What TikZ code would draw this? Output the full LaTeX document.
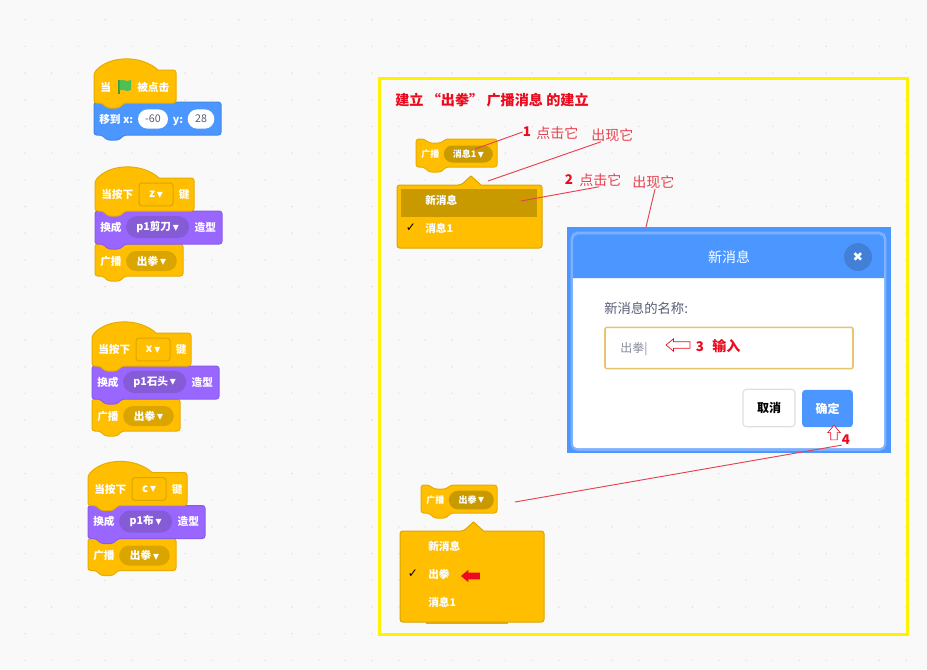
\documentclass[tikz,border=0pt]{standalone}
\usepackage{fontspec}
\setmainfont{Noto Sans CJK SC}
\newfontfamily\symfont{DejaVu Sans}
\usetikzlibrary{positioning,shapes.misc,shapes.arrows}
\definecolor{canvas}{HTML}{F9F9F9}
\definecolor{griddot}{HTML}{E4E4E4}
\definecolor{blockyellow}{HTML}{FFBF00}
\definecolor{yellowedge}{HTML}{E6AC00}
\definecolor{yellowpill}{HTML}{DBA500}
\definecolor{menudark}{HTML}{C99900}
\definecolor{blockpurple}{HTML}{9966FF}
\definecolor{purpleedge}{HTML}{8A5CE6}
\definecolor{purplepill}{HTML}{855CD6}
\definecolor{blockblue}{HTML}{4C97FF}
\definecolor{blueedge}{HTML}{4287E8}
\definecolor{ringblue}{HTML}{7DB1FF}
\definecolor{closeblue}{HTML}{4280D7}
\definecolor{inkgray}{HTML}{575E75}
\definecolor{inputedge}{HTML}{E9C46F}
\definecolor{notered}{HTML}{E8404F}
\definecolor{titlered}{HTML}{EE0A1E}
\definecolor{flaggreen}{HTML}{4CBF56}
\definecolor{poleGreen}{HTML}{45993D}
\tikzset{
  yellowblk/.style={fill=blockyellow,draw=yellowedge,line width=0.75pt,rounded corners=2pt},
  purpleblk/.style={fill=blockpurple,draw=purpleedge,line width=0.75pt,rounded corners=2pt},
  blueblk/.style={fill=blockblue,draw=blueedge,line width=0.75pt,rounded corners=2pt},
  menuedge/.style={fill=blockyellow,draw=yellowpill,line width=0.75pt,rounded corners=2pt},
  blktxt/.style={text=white,inner sep=0pt,font=\bfseries\fontsize{8}{10}\selectfont},
  smalltxt/.style={text=white,inner sep=0pt,font=\bfseries\fontsize{6.75}{8}\selectfont},
  menutxt/.style={text=white,inner sep=0pt,font=\bfseries\fontsize{8}{10}\selectfont},
  pillnode/.style={rounded rectangle,inner sep=0pt,minimum height=16.5pt,text=white,font=\bfseries\fontsize{8}{10}\selectfont},
  keybox/.style={rectangle,rounded corners=2pt,draw=yellowpill,fill=blockyellow,line width=0.75pt,inner sep=0pt,
    minimum width=25.5pt,minimum height=17pt,text=white,font=\bfseries\fontsize{8.5}{10}\selectfont},
  valoval/.style={rounded rectangle,fill=white,inner sep=0pt,minimum height=14.5pt,text=inkgray,font=\fontsize{8}{10}\selectfont},
  notetxt/.style={text=notered,inner sep=0pt,font=\fontsize{10.5}{12}\selectfont},
  numtxt/.style={text=titlered,inner sep=0pt,font=\bfseries\fontsize{10}{12}\selectfont},
  noteline/.style={draw=notered,line width=0.7pt},
  outlinearrow/.style={single arrow,draw=titlered,fill=white,line width=0.5pt,inner sep=2.2pt,
    single arrow head extend=2.2pt,single arrow tip angle=80},
  dlgbutton/.style={rectangle,rounded corners=2.5pt,inner sep=0pt,minimum height=28pt,
    font=\bfseries\fontsize{9}{11}\selectfont}
}
\newcommand{\arrowglyph}{{\,\symfont\mdseries\fontsize{9}{8}\selectfont\raisebox{-0.4pt}{▾}}}
% stacking block, notch on top and bump below
\newcommand{\stackblock}[5]{
  \draw[#1,shift={(#2,#3)}] (0,0) -- (8,0) -- (13,4) -- (25,4) -- (30,0) -- (#4,0) -- (#4,#5)
    -- (30,#5) -- (25,#5+5) -- (13,#5+5) -- (8,#5) -- (0,#5) -- cycle;
}
% hat block on the top of a script
\newcommand{\hatblock}[4]{
  \draw[#1,shift={(#2,#3)}] (0,44) -- (0,14) [sharp corners] .. controls (15,-4) and (48,-4) .. (64,11)
    [rounded corners=2pt] -- (#4,11) -- (#4,44) -- (30,44) -- (25,49) -- (13,49) -- (8,44) -- cycle;
}
% the menu panel with its pointer
\newcommand{\menupanel}[6]{
  \draw[menuedge] (#1,#2) -- (#5-10,#2) [sharp corners] -- (#5,#6) -- (#5+10,#2) [rounded corners=2pt]
    -- (#3,#2) -- (#3,#4) -- (#1,#4) -- cycle;
}
% script: key pressed, switch costume, broadcast
\newcommand{\keyscript}[7]{
  \stackblock{yellowblk}{#2}{#3+77}{88}{32}
  \stackblock{purpleblk}{#2}{#3+44}{#6}{33}
  \hatblock{yellowblk}{#2}{#3}{99}
  \begin{scope}[shift={(#2,#3)}]
    \node[blktxt,anchor=west] (#1press) at (6,27.5) {当按下};
    \node[keybox,right=3.75pt of #1press] (#1key) {#4\arrowglyph};
    \node[blktxt,right=3.75pt of #1key] (#1keyword) {键};
    \node[blktxt,anchor=west] (#1switch) at (5,60) {换成};
    \node[pillnode,fill=purplepill,right=3pt of #1switch,minimum width=#7*0.75pt] (#1costume) {#5\arrowglyph};
    \node[blktxt,right=3.75pt of #1costume] (#1look) {造型};
    \node[blktxt,anchor=west] (#1send) at (5,94) {广播};
    \node[pillnode,fill=yellowpill,right=3pt of #1send,minimum width=38pt,minimum height=15pt] (#1msg) {出拳\arrowglyph};
  \end{scope}
}
\begin{document}
\begin{tikzpicture}[x=0.75pt,y=-0.75pt]
\useasboundingbox (0,0) rectangle (927,669);
\fill[canvas] (0,0) rectangle (927,669);
\fill[griddot] \foreach \dotx in {-3,...,31}{\foreach \doty in {-2,...,22}{(105+26.7*\dotx,73+26.7*\doty) circle (0.9)}};
% first script
\stackblock{blueblk}{94}{102}{127}{33}
\hatblock{yellowblk}{94}{59}{82}
\node[blktxt,anchor=west] (whenword) at (100,87) {当};
\fill[poleGreen] (118,80) rectangle (119.5,94);
\fill[flaggreen] (119.5,80.5) .. controls (123,78) and (126,83) .. (131,80) -- (131,90) .. controls (126,93) and (123,88) .. (119.5,90.5) -- cycle;
\node[blktxt,anchor=west] (clickword) at (137,87) {被点击};
\node[blktxt,anchor=base west] (moveword) at (99,123) {移到 x:};
\node[valoval,minimum width=22.5pt] (xval) at (153,119) {-60};
\node[blktxt,anchor=base] (yword) at (178,123) {y:};
\node[valoval,minimum width=20pt] (yval) at (201,119) {28};
% key scripts
\keyscript{zk}{95}{167}{z}{p1剪刀}{127}{63}
\keyscript{xk}{92}{322}{x}{p1石头}{127}{63}
\keyscript{ck}{88}{461.5}{c}{p1布}{117}{53}
% frame
\draw[yellow,line width=2.25pt] (379,78) rectangle (907,634);
\node[text=titlered,inner sep=0pt,anchor=west,font=\bfseries\fontsize{10.6}{12}\selectfont] (title) at (395,100) {建立 “出拳” 广播消息 的建立};
% first menu
\stackblock{yellowblk}{416}{139}{81}{28}
\node[smalltxt,anchor=west] (send1) at (421,154) {广播};
\node[pillnode,fill=menudark,minimum width=36.75pt,minimum height=12.75pt,font=\bfseries\fontsize{6.75}{8}\selectfont,right=3pt of send1] (msg1) {消息1\arrowglyph};
\menupanel{397}{185}{542}{248}{471}{176}
\fill[menudark] (401,189) rectangle (537,217);
\node[menutxt,anchor=west] (newmsg1) at (425,200.5) {新消息};
\node[menutxt,anchor=west] (oldmsg1) at (425,228.5) {消息1};
\node[inner sep=0pt,font=\symfont\fontsize{9}{10}\selectfont] (tick1) at (411,228) {✓};
% notes
\node[numtxt] (num1) at (527,132) {1};
\node[notetxt,anchor=west] (click1) at (536,133) {点击它};
\node[notetxt,anchor=west] (appear1) at (591,135) {出现它};
\node[numtxt] (num2) at (569,180) {2};
\node[notetxt,anchor=west] (click2) at (579,180) {点击它};
\node[notetxt,anchor=west] (appear2) at (632,182) {出现它};
\coordinate (msg1dot) at (475,149);
\coordinate (menu1tip) at (488,181);
\coordinate (newmsgdot) at (521,201);
\coordinate (dlgtop) at (646,227);
\draw[noteline] (num1.west) -- (msg1dot);
\draw[noteline] (appear1.211) -- (menu1tip);
\draw[noteline] (click2.260) -- (newmsgdot);
% dialog
\node[rectangle,fill=blockblue,inner sep=0pt,minimum width=243pt,minimum height=169.5pt] (dlg) at (729,340) {};
\draw[draw=ringblue,line width=1.9pt,rounded corners=4pt] (572,233) rectangle (885,449.5);
\fill[white,rounded corners=3pt] (573,235) rectangle (884,448);
\fill[blockblue] (573,278) [rounded corners=3pt] -- (573,235) -- (884,235) [sharp corners] -- (884,278) -- cycle;
\draw[noteline] (appear2.285) -- (dlgtop);
\node[text=white,inner sep=0pt,font=\fontsize{10.5}{12}\selectfont] (dlgtitle) at (729,257) {新消息};
\node[circle,fill=closeblue,text=white,inner sep=0pt,minimum size=21pt,font=\symfont\fontsize{9.5}{10}\selectfont] (dlgclose) at (858,257) {✖};
\node[text=inkgray,inner sep=0pt,anchor=west,font=\fontsize{10}{12}\selectfont] (askname) at (604,308.5) {新消息的名称:};
\node[rectangle,rounded corners=1.5pt,draw=inputedge,fill=white,line width=1.2pt,inner sep=0pt,minimum width=186pt,minimum height=31pt] (inputbox) at (729,348) {};
\node[text=inkgray!70,inner sep=0pt,anchor=west,font=\fontsize{9}{11}\selectfont] (inputtext) at (620,349) {出拳|};
\node[outlinearrow,shape border rotate=180,minimum width=9pt,minimum height=18pt] (arrow3) at (680,345) {};
\node[numtxt] (num3) at (700,346.5) {3};
\node[numtxt,anchor=west,font=\bfseries\fontsize{10.5}{12}\selectfont] (typeword) at (712,346) {输入};
\node[dlgbutton,draw=black!12,fill=white,line width=0.9pt,minimum width=39pt,text=black] (cancel) at (769,408) {取消};
\node[dlgbutton,fill=blockblue,minimum width=38pt,text=white] (confirm) at (827.5,408.5) {确定};
\node[outlinearrow,shape border rotate=90,minimum width=8pt,minimum height=11pt] (arrow4) at (834,434.5) {};
\node[numtxt] (num4) at (846,440) {4};
% second menu
\fill[yellowedge] (426,618) rectangle (508,623.5);
\stackblock{yellowblk}{421}{485}{76}{28}
\node[smalltxt,anchor=west] (send2) at (426,500) {广播};
\node[pillnode,fill=menudark,minimum width=33.75pt,minimum height=14pt,font=\bfseries\fontsize{6.75}{8}\selectfont,right=3pt of send2] (msg2) {出拳\arrowglyph};
\menupanel{400}{531}{544}{622}{473.5}{522}
\node[menutxt,anchor=west] (newmsg2) at (428,546.5) {新消息};
\node[menutxt,anchor=west] (picked) at (428,574.5) {出拳};
\node[menutxt,anchor=west] (oldmsg2) at (428,602) {消息1};
\node[inner sep=0pt,font=\symfont\fontsize{9}{10}\selectfont] (tick2) at (413,574) {✓};
\node[single arrow,fill=titlered,inner sep=2.4pt,minimum width=9pt,minimum height=14.25pt,single arrow head extend=2pt,single arrow tip angle=80,shape border rotate=180] (pickarrow) at (472.5,576) {};
\coordinate (msg2end) at (515,502);
\draw[noteline] (num4.south west) -- (msg2end);
\end{tikzpicture}
\end{document}
